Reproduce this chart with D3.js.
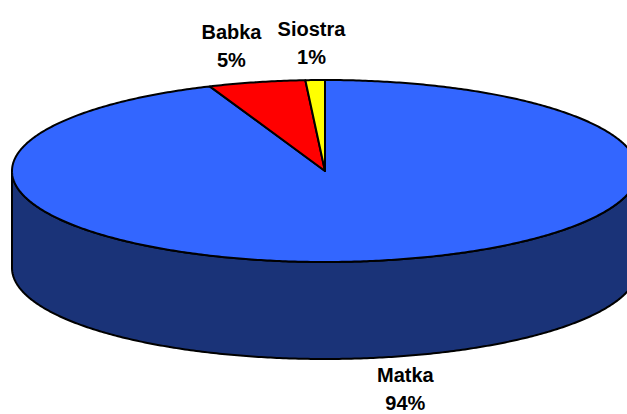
<!DOCTYPE html>
<html>
<head>
<meta charset="utf-8">
<script src="https://cdn.jsdelivr.net/npm/d3@7"></script>
<style>
  html, body { margin: 0; padding: 0; background: #fff; }
  svg { display: block; }
  text { font-family: "Liberation Sans", Arial, sans-serif; font-weight: bold; }
</style>
</head>
<body>
<svg id="chart" width="627" height="414"></svg>
<script>
// Slice data (percent shares)
const categories = ["Matka", "Babka", "Siostra"];
const values = [94, 5, 1];
const labels = ["94%", "5%", "1%"];
const topColors = ["#3366ff", "#ff0000", "#ffff00"];
const sideColors = ["#1a3378", "#800000", "#808000"];

const W = 627, H = 414;
const cx = 325, cy = 171;      // centre of the top face
const rx = 313, ry = 91;       // ellipse radii of the tilted disc
const depth = 97;              // thickness of the disc

const svg = d3.select("#chart");

const pie = d3.pie().sort(null).value(d => d.value)
  .startAngle(0).endAngle(2 * Math.PI);
const arcs = pie(categories.map((c, i) => ({ name: c, value: values[i], label: labels[i], i })));

// Map a pie angle (clockwise from 12 o'clock) onto the projected ellipse
const px = (a, k = 1) => cx + rx * k * Math.sin(a);
const py = (a, k = 1) => cy - ry * k * Math.cos(a);

function arcPoints(a0, a1, dy) {
  const n = Math.max(2, Math.ceil(Math.abs(a1 - a0) / 0.01));
  const pts = [];
  for (let j = 0; j <= n; j++) {
    const a = a0 + (a1 - a0) * j / n;
    pts.push([px(a), py(a) + dy]);
  }
  return pts;
}

const line = d3.line();

// Front wall (only the part facing the viewer: angles between 90° and 270°)
const walls = svg.append("g");
arcs.forEach(d => {
  const a0 = Math.max(d.startAngle, Math.PI / 2);
  const a1 = Math.min(d.endAngle, 3 * Math.PI / 2);
  if (a1 <= a0) return;
  const pts = arcPoints(a0, a1, 0).concat(arcPoints(a1, a0, depth));
  walls.append("path")
    .attr("d", line(pts) + "Z")
    .attr("fill", sideColors[d.data.i])
    .attr("stroke", "#000")
    .attr("stroke-width", 2)
    .attr("stroke-linejoin", "round");
});

// Top faces
const tops = svg.append("g");
arcs.forEach(d => {
  const pts = [[cx, cy]].concat(arcPoints(d.startAngle, d.endAngle, 0));
  tops.append("path")
    .attr("d", line(pts) + "Z")
    .attr("fill", topColors[d.data.i])
    .attr("stroke", "#000")
    .attr("stroke-width", 2)
    .attr("stroke-linejoin", "round");
});

// Labels: category name with percentage below, placed outside each slice
const lk = 1.37, lky = 1.41, fs = 20, lineGap = 28, capH = 14;
const lg = svg.append("g").attr("fill", "#000").attr("font-size", fs).attr("text-anchor", "middle");
arcs.forEach(d => {
  const m = (d.startAngle + d.endAngle) / 2;
  const front = Math.cos(m) < 0;
  const x = px(m, lk);
  const yc = py(m, lky) + (front ? depth - 5 : 0);
  const base1 = yc - (capH + lineGap) / 2 + capH;
  lg.append("text").attr("x", x).attr("y", base1).text(d.data.name);
  lg.append("text").attr("x", x).attr("y", base1 + lineGap).text(d.data.label);
});
</script>
</body>
</html>
